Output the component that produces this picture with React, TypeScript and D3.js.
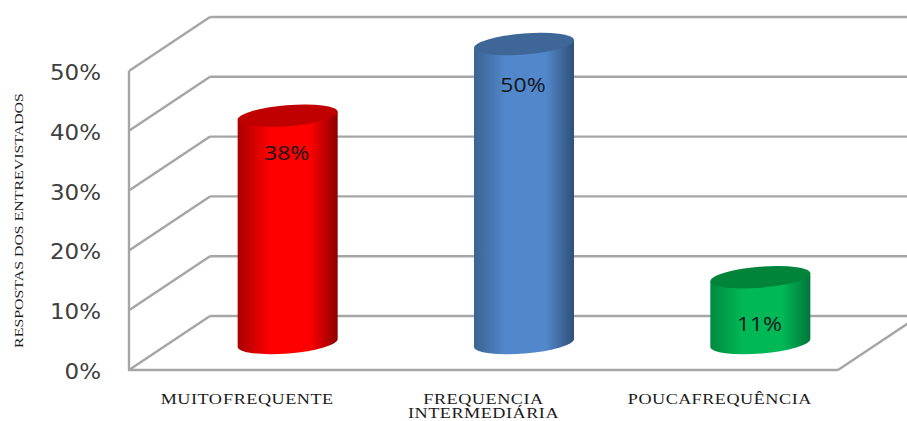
import React from "react";
import * as d3 from "d3";

const categories = ["MUITO FREQUENTE", "FREQUENCIA INTERMEDIÁRIA", "POUCA FREQUÊNCIA"];
const categoryLines = [["MUITO FREQUENTE"], ["FREQUENCIA", "INTERMEDIÁRIA"], ["POUCA FREQUÊNCIA"]];
const values = [38, 50, 11];
const valueLabels = ["38%", "50%", "11%"];
const ticks = [0, 10, 20, 30, 40, 50];
const yTitle = "RESPOSTAS DOS ENTREVISTADOS";
const sideColors = [
  ["#a80000", "#ff0000", "#ff0000", "#8c0000"],
  ["#3a6492", "#5287cb", "#5287cb", "#2f5078"],
  ["#008a3e", "#00b856", "#00b856", "#00763a"],
];
const capColors = ["#c00000", "#3e6797", "#00843a"];

const W = 907;
const H = 421;
const depthX = 81;
const depthY = 54;
const frontLeft = 129;
const frontRight = 838;
const gridColor = "#a6a6a6";
// Baseline offset of each value label below the 3D top of its cylinder.
const labelDrop = [17, 21, 27];

const xFront = d3.scaleBand<string>().domain(categories).range([frontLeft, frontRight]);
const yFront = d3.scaleLinear().domain([0, 50]).range([370, 71]);

// Cylinder geometry: half width, cap minor radius and the sideways tilt of the caps.
const halfW = 50;
const capRy = 10.5;
const tiltRise = 4;
const tiltDeg = (Math.atan2(tiltRise, halfW) * 180) / Math.PI;
const capRx = Math.hypot(halfW, tiltRise);

function cylinderBody(cx: number, top: number, bottom: number): string {
  const p = d3.path();
  p.moveTo(cx - halfW, top + tiltRise);
  p.lineTo(cx - halfW, bottom + tiltRise);
  const arc = `A${capRx} ${capRy} ${-tiltDeg} 0 0 ${cx + halfW} ${bottom - tiltRise}`;
  return `${p.toString()}${arc}L${cx + halfW} ${top - tiltRise}Z`;
}

export default function App() {
  return (
    <svg
      width={W}
      height={H}
      viewBox={`0 0 ${W} ${H}`}
      style={{ position: "absolute", left: 0, top: 0, background: "#fff" }}
    >
      <defs>
        {sideColors.map((c, i) => (
          <linearGradient key={i} id={`side${i}`} x1="0" x2="1" y1="0" y2="0">
            <stop offset="0" stopColor={c[0]} />
            <stop offset="0.32" stopColor={c[1]} />
            <stop offset="0.72" stopColor={c[2]} />
            <stop offset="1" stopColor={c[3]} />
          </linearGradient>
        ))}
      </defs>

      {/* Back wall and side wall gridlines */}
      <g stroke={gridColor} strokeWidth={2.4} fill="none">
        {ticks.map((t) => (
          <g key={t}>
            <line x1={frontLeft + depthX} x2={W} y1={yFront(t) - depthY} y2={yFront(t) - depthY} />
            <line x1={frontLeft} y1={yFront(t)} x2={frontLeft + depthX} y2={yFront(t) - depthY} />
          </g>
        ))}
        <line x1={frontLeft} x2={frontLeft} y1={yFront(50)} y2={yFront(0)} />
        <line x1={frontLeft - 1} x2={frontRight} y1={yFront(0)} y2={yFront(0)} />
        <line x1={frontRight} y1={yFront(0)} x2={frontRight + depthX} y2={yFront(0) - depthY} />
      </g>

      {/* Axis tick labels */}
      {ticks.map((t) => (
        <text
          key={t}
          transform={`translate(101 ${yFront(t) + 9}) scale(1.12 1)`}
          textAnchor="end"
          fontFamily="'DejaVu Sans', sans-serif"
          fontSize={20.5}
          fill="#404040"
        >
          {`${t}%`}
        </text>
      ))}

      {/* Cylinders */}
      {values.map((v, i) => {
        const cx = (xFront(categories[i]) as number) + xFront.bandwidth() / 2 + depthX / 2;
        const bottom = yFront(0) - depthY / 2;
        const top = yFront(v) - depthY / 2;
        return (
          <g key={categories[i]}>
            <path d={cylinderBody(cx, top, bottom)} fill={`url(#side${i})`} />
            <ellipse
              cx={cx}
              cy={top}
              rx={capRx}
              ry={capRy}
              transform={`rotate(${-tiltDeg} ${cx} ${top})`}
              fill={capColors[i]}
            />
          </g>
        );
      })}

      {/* Value labels inside the cylinders */}
      {values.map((v, i) => {
        const cx = (xFront(categories[i]) as number) + xFront.bandwidth() / 2 + depthX / 2;
        return (
          <text
            key={i}
            transform={`translate(${cx - 1} ${yFront(v) + labelDrop[i]}) scale(1.15 1)`}
            textAnchor="middle"
            fontFamily="'Open Sans', sans-serif"
            fontSize={20}
            fill="#14181c"
          >
            {valueLabels[i]}
          </text>
        );
      })}

      {/* Category labels */}
      {categoryLines.map((lines, i) => {
        const cx = (xFront(categories[i]) as number) + xFront.bandwidth() / 2;
        return lines.map((line, j) => (
          <text
            key={line}
            transform={`translate(${cx} ${404 + j * 13.8}) scale(1.3 1)`}
            textAnchor="middle"
            fontFamily="'Liberation Serif', serif"
            fontSize={14}
            letterSpacing={0.4}
            wordSpacing={-3.5}
            fill="#1a1a1a"
          >
            {line}
          </text>
        ));
      })}

      {/* Vertical axis title */}
      <text
        transform="translate(23 220.5) rotate(-90) scale(1.22 1)"
        textAnchor="middle"
        fontFamily="'Liberation Serif', serif"
        fontSize={13}
        fill="#1a1a1a"
      >
        {yTitle}
      </text>
    </svg>
  );
}
